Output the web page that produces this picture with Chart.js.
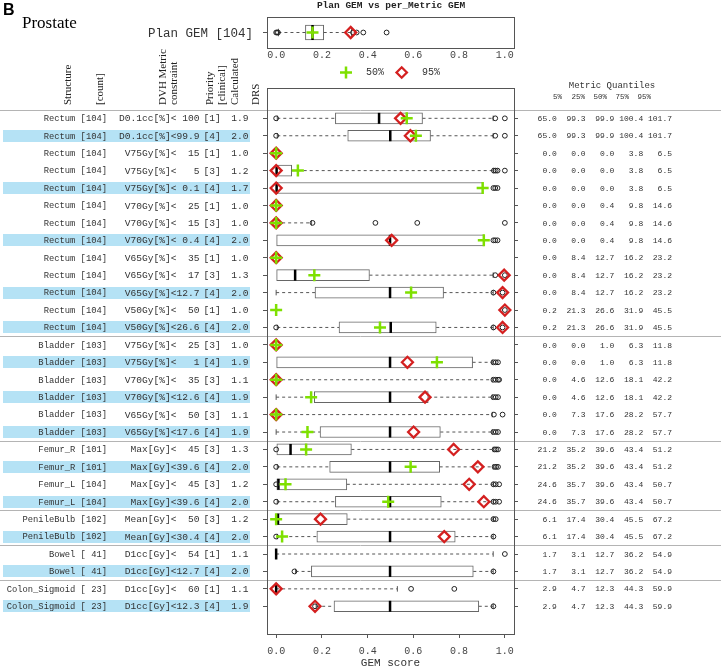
<!DOCTYPE html>
<html><head><meta charset="utf-8">
<script src="https://cdn.jsdelivr.net/npm/chart.js@4/dist/chart.umd.min.js"></script>
<style>
html,body{margin:0;padding:0;background:#fff;}
#wrap{position:relative;width:721px;height:669px;overflow:hidden;}
#main,#inset{position:absolute;left:0;top:0;}
</style></head><body>
<div id="wrap"><canvas id="main" width="721" height="669"></canvas><canvas id="inset" width="721" height="86"></canvas></div>
<script>
// ---------------- data ----------------
const structures = ["Rectum","Rectum","Rectum","Rectum","Rectum","Rectum","Rectum","Rectum","Rectum","Rectum","Rectum","Rectum","Rectum",
  "Bladder","Bladder","Bladder","Bladder","Bladder","Bladder",
  "Femur_R","Femur_R","Femur_L","Femur_L","PenileBulb","PenileBulb","Bowel","Bowel","Colon_Sigmoid","Colon_Sigmoid"];
const counts = [104,104,104,104,104,104,104,104,104,104,104,104,104, 103,103,103,103,103,103, 101,101,104,104,102,102,41,41,23,23];
const metrics = ["D0.1cc[%]","D0.1cc[%]","V75Gy[%]","V75Gy[%]","V75Gy[%]","V70Gy[%]","V70Gy[%]","V70Gy[%]","V65Gy[%]","V65Gy[%]","V65Gy[%]","V50Gy[%]","V50Gy[%]",
  "V75Gy[%]","V75Gy[%]","V70Gy[%]","V70Gy[%]","V65Gy[%]","V65Gy[%]",
  "Max[Gy]","Max[Gy]","Max[Gy]","Max[Gy]","Mean[Gy]","Mean[Gy]","D1cc[Gy]","D1cc[Gy]","D1cc[Gy]","D1cc[Gy]"];
const limits = ["100","99.9","15","5","0.1","25","15","0.4","35","17","12.7","50","26.6",
  "25","1","35","12.6","50","17.6","45","39.6","45","39.6","50","30.4","54","12.7","60","12.3"];
const priorities = [1,4,1,3,4,1,3,4,1,3,4,1,4, 3,4,3,4,3,4, 3,4,3,4, 3,4, 1,4,1,4];
const calculated = [1.9,2.0,1.0,1.2,1.7,1.0,1.0,2.0,1.0,1.3,2.0,1.0,2.0, 1.0,1.9,1.1,1.9,1.1,1.9, 1.3,2.0,1.2,2.0, 1.2,2.0, 1.1,2.0,1.1,1.9];
const drsShade = ["#000000","#a8a8a8",null,"#ebebeb","#9a9a9a",null,null,"#9a9a9a",null,"#a8a8a8","#a8a8a8",null,"#9a9a9a",
  null,"#9a9a9a",null,"#b0b0b0",null,"#9a9a9a","#b8b8b8","#a0a0a0","#c0c0c0","#9a9a9a","#b8b8b8","#9a9a9a",null,"#9a9a9a",null,"#9a9a9a"];

// per-metric GEM distributions
const whiskerLow  = [0.005,0.005,null,0,0,null,0,0,null,0,0,null,0.005, null,0,0,0,0,0, 0.003,0.005,0.003,0.005, 0.003,0.005, 0,0.085,0,0.175];
const boxLow      = [0.259,0.313,null,0,0,null,0,0,null,0,0.170,null,0.275, null,0,0,0.167,0,0.192, 0.003,0.234,0.003,0.259, 0.003,0.178, 0,0.154,0,0.253];
const medians     = [0.450,0.499,null,0.002,0.002,null,0,0.498,null,0.083,0.498,null,0.501, null,0.498,0,0.498,0,0.498, 0.063,0.498,0.010,0.498, 0.008,0.498, 0,0.498,0,0.498];
const boxHigh     = [0.640,0.675,null,0.068,0.903,null,0,0.908,null,0.408,0.732,null,0.700, null,0.859,0,0.665,0,0.718, 0.329,0.715,0.309,0.722, 0.311,0.783, 0,0.862,0,0.886];
const whiskerHigh = [0.949,0.949,null,0.949,0.903,null,0.155,0.908,null,0.949,0.949,null,0.949, null,0.945,0.945,0.945,0.945,0.945, 0.949,0.949,0.949,0.949, 0.949,0.949, 0.949,0.949,0.530,0.949];
const gem50 = [0.571,0.611,0,0.095,0.903,0,0,0.908,0,0.167,0.590,0,0.454, 0,0.703,0,0.153,0,0.137, 0.131,0.588,0.041,0.490, 0.0,0.026, null,null,null,null];
const gem95 = [0.544,0.587,0,0,0,0,0,0.505,0,0.997,0.990,1.0,0.990, 0,0.574,0,0.651,0,0.601, 0.776,0.882,0.844,0.908, 0.194,0.735, null,null,0,0.170];
const outliers = [[0,0.958,1.0],[0,0.958,1.0],[],[0.952,0.96,0.968,1.0],[0.95,0.958,0.968],[],[0.159,0.434,0.617,1.0],[0.95,0.958,0.968],[],[0.958,1.0],[0.95,0.99],[1.0],[0,0.95,0.99],
  [],[0.95,0.96,0.97],[0.95,0.96,0.97,0.975],[0.95,0.96,0.97],[0.952,0.99],[0.95,0.96,0.97],
  [0,0.955,0.962,0.97],[0,0.955,0.962,0.97],[0,0.95,0.96,0.975],[0,0.95,0.96,0.975],[0.95,0.96],[0,0.95],[1.0],[0.08,0.95],[0.59,0.779],[0.17,0.95]];

// metric quantiles (right-hand table)
const q05 = [65.0,65.0,0.0,0.0,0.0,0.0,0.0,0.0,0.0,0.0,0.0,0.2,0.2, 0.0,0.0,0.0,0.0,0.0,0.0, 21.2,21.2,24.6,24.6,6.1,6.1,1.7,1.7,2.9,2.9];
const q25 = [99.3,99.3,0.0,0.0,0.0,0.0,0.0,0.0,8.4,8.4,8.4,21.3,21.3, 0.0,0.0,4.6,4.6,7.3,7.3, 35.2,35.2,35.7,35.7,17.4,17.4,3.1,3.1,4.7,4.7];
const q50 = [99.9,99.9,0.0,0.0,0.0,0.4,0.4,0.4,12.7,12.7,12.7,26.6,26.6, 1.0,1.0,12.6,12.6,17.6,17.6, 39.6,39.6,39.6,39.6,30.4,30.4,12.7,12.7,12.3,12.3];
const q75 = [100.4,100.4,3.8,3.8,3.8,9.8,9.8,9.8,16.2,16.2,16.2,31.9,31.9, 6.3,6.3,18.1,18.1,28.2,28.2, 43.4,43.4,43.4,43.4,45.5,45.5,36.2,36.2,44.3,44.3];
const q95 = [101.7,101.7,6.5,6.5,6.5,14.6,14.6,14.6,23.2,23.2,23.2,45.5,45.5, 11.8,11.8,42.2,42.2,57.7,57.7, 51.2,51.2,50.7,50.7,67.2,67.2,54.9,54.9,59.9,59.9];
const quantileLabels = ["5%","25%","50%","75%","95%"];

// plan-level GEM (top inset)
const planStats = [0.01, 0.128, 0.159, 0.208, 0.330]; // whisker low, q1, median, q3, whisker high
const planOutliers = [0, 0.004, 0.008, 0.336, 0.352, 0.381, 0.483];
const plan50 = 0.159, plan95 = 0.326;
const planCount = 104;
const xTicks = [0, 0.2, 0.4, 0.6, 0.8, 1.0];

// ---------------- styling ----------------
const MONO = "'Liberation Mono', 'DejaVu Sans Mono', monospace";
const SERIF = "'Liberation Serif', 'DejaVu Serif', serif";
const GREEN = '#7ee000', RED = '#d42020', FRAME = '#555555';
Chart.defaults.font.family = MONO;
Chart.defaults.animation = false;

function boxDatasets(rows, st) {
  const boxes = [], whisk = [], staples = [], meds = [];
  rows.forEach(r => {
    boxes.push({x: [r.q1, r.q3], y: r.i});
    meds.push({x: r.med, y: r.i});
    if (r.wLo < r.q1) { whisk.push({x: r.wLo, y: r.i}, {x: r.q1, y: r.i}, {x: r.q1, y: null}); staples.push({x: r.wLo, y: r.i}); }
    if (r.wHi > r.q3) { whisk.push({x: r.q3, y: r.i}, {x: r.wHi, y: r.i}, {x: r.wHi, y: null}); staples.push({x: r.wHi, y: r.i}); }
  });
  return [
    {type: 'bar', indexAxis: 'y', data: boxes, backgroundColor: '#ffffff', borderColor: '#666666', borderWidth: 1, borderSkipped: false, barThickness: st.bar, grouped: false, order: 9},
    {type: 'line', data: whisk, borderColor: '#555555', borderWidth: 1, borderDash: [3, 3], pointRadius: 0, spanGaps: false, fill: false, order: 8},
    {type: 'scatter', data: staples, pointStyle: 'line', rotation: 90, pointRadius: st.staple, borderColor: '#555555', borderWidth: 1, order: 7},
    {type: 'scatter', data: meds, pointStyle: 'line', rotation: 90, pointRadius: st.bar / 2, borderColor: '#000000', borderWidth: 2.5, order: 6}
  ];
}

// ---------------- main chart ----------------
const rowsMain = [];
structures.forEach((s, i) => { if (boxLow[i] !== null) rowsMain.push({i, wLo: whiskerLow[i], q1: boxLow[i], med: medians[i], q3: boxHigh[i], wHi: whiskerHigh[i]}); });
const outPts = []; outliers.forEach((arr, i) => arr.forEach(v => outPts.push({x: v, y: i})));
const p50Pts = [], p95Pts = [], drsPts = [], drsCols = [];
structures.forEach((s, i) => {
  if (gem50[i] !== null) p50Pts.push({x: gem50[i], y: i});
  if (gem95[i] !== null) p95Pts.push({x: gem95[i], y: i});
  if (drsShade[i] !== null) { drsPts.push({x: -0.077, y: i}); drsCols.push(drsShade[i]); }
});

const mainDecor = {
  id: 'mainDecor',
  beforeDraw(chart) {
    const {ctx, scales: {y}} = chart;
    ctx.save();
    ctx.fillStyle = '#b5e2f5';
    priorities.forEach((p, i) => { if (p === 4) { const py = y.getPixelForValue(i); ctx.fillRect(3, Math.round(py - 6), 247, 12); } });
    ctx.strokeStyle = '#b4b4b4'; ctx.lineWidth = 1;
    const bounds = [-0.5];
    for (let i = 1; i < structures.length; i++) if (structures[i].split('_')[0] !== structures[i - 1].split('_')[0]) bounds.push(i - 0.5);
    bounds.forEach(b => { const py = Math.round(y.getPixelForValue(b)) + 0.5; ctx.beginPath(); ctx.moveTo(0, py); ctx.lineTo(721, py); ctx.stroke(); });
    ctx.fillStyle = '#333333'; ctx.textBaseline = 'middle';
    const qCols = [q05, q25, q50, q75, q95];
    structures.forEach((s, i) => {
      const py = y.getPixelForValue(i) + 0.5;
      ctx.textAlign = 'right';
      ctx.font = '8.8px ' + MONO;
      ctx.fillText(s + ' [' + String(counts[i]).padStart(3, ' ') + ']', 107, py);
      ctx.font = '9.6px ' + MONO;
      ctx.fillText(metrics[i] + '<' + limits[i].padStart(4, ' '), 199.5, py);
      ctx.fillText(calculated[i].toFixed(1), 248.5, py);
      ctx.textAlign = 'left';
      ctx.fillText('[' + priorities[i] + ']', 203.5, py);
      ctx.textAlign = 'right';
      ctx.font = '8px ' + MONO;
      ctx.fillText(qCols.map(a => a[i].toFixed(1).padStart(5, ' ')).join(' '), 672, py);
    });
    ctx.font = '9px ' + MONO; ctx.textAlign = 'center';
    ctx.fillText('Metric Quantiles', 612, 86);
    ctx.font = '7.5px ' + MONO; ctx.textAlign = 'right';
    const hRight = [562, 585, 607, 629, 651];
    quantileLabels.forEach((t, k) => ctx.fillText(t, hRight[k], 97));
    ctx.font = '11px ' + SERIF; ctx.fillStyle = '#222222';
    const heads = [['Structure', 68], ['[count]', 100], ['DVH Metric', 163], ['constraint', 174], ['Priority', 210.5], ['[clinical]', 222.5], ['Calculated', 235], ['DRS', 256.5]];
    heads.forEach(([t, x]) => { ctx.save(); ctx.translate(x, 105); ctx.rotate(-Math.PI / 2); ctx.textAlign = 'left'; ctx.textBaseline = 'middle'; ctx.fillText(t, 0, 0); ctx.restore(); });
    ctx.fillStyle = '#000000'; ctx.textAlign = 'left'; ctx.textBaseline = 'alphabetic';
    ctx.font = 'bold 16px "Liberation Sans", Arial, sans-serif';
    ctx.fillText('B', 3, 15);
    ctx.font = '17px ' + SERIF;
    ctx.fillText('Prostate', 22, 28);
    ctx.fillStyle = '#333333'; ctx.font = '12.5px ' + MONO; ctx.textAlign = 'right'; ctx.textBaseline = 'middle';
    ctx.fillText('Plan GEM [' + planCount + ']', 253, 34);
    ctx.restore();
  },
  afterDatasetsDraw(chart) {
    const {ctx, chartArea: a} = chart;
    ctx.save(); ctx.strokeStyle = FRAME; ctx.lineWidth = 1;
    ctx.strokeRect(Math.round(a.left) + 0.5, Math.round(a.top) + 0.5, Math.round(a.right - a.left), Math.round(a.bottom - a.top));
    ctx.restore();
  }
};

const yCommon = {
  type: 'linear', min: -1.74, max: 29.59, reverse: true, offset: false,
  afterBuildTicks: sc => { sc.ticks = structures.map((s, i) => ({value: i})); },
  ticks: {display: false},
  grid: {offset: false, drawOnChartArea: false, drawTicks: true, tickLength: 4, color: FRAME, tickColor: FRAME},
  border: {display: false},
  afterFit: sc => { sc.width = 5; }
};

new Chart(document.getElementById('main'), {
  type: 'scatter',
  data: {datasets: [
    ...boxDatasets(rowsMain, {bar: 11, staple: 2.75}),
    {type: 'scatter', data: outPts, pointStyle: 'circle', pointRadius: 2.4, borderColor: '#222222', borderWidth: 1, backgroundColor: 'rgba(255,255,255,0)', order: 5},
    {type: 'scatter', data: drsPts, pointStyle: 'circle', pointRadius: 5.6, backgroundColor: drsCols, borderWidth: 0, clip: false, order: 4},
    {type: 'scatter', data: p95Pts, pointStyle: 'rectRot', pointRadius: 5.5, borderColor: RED, borderWidth: 2.3, backgroundColor: 'rgba(0,0,0,0)', order: 2},
    {type: 'scatter', data: p50Pts, pointStyle: 'cross', pointRadius: 6, borderColor: GREEN, borderWidth: 2.5, order: 1}
  ]},
  options: {
    responsive: false, devicePixelRatio: 1, animation: false,
    layout: {padding: {left: 262, right: 202, top: 88, bottom: 0}},
    plugins: {legend: {display: false}, tooltip: {enabled: false}},
    scales: {
      x: {type: 'linear', min: -0.04, max: 1.04, offset: false,
        afterBuildTicks: sc => { sc.ticks = xTicks.map(v => ({value: v})); },
        ticks: {callback: v => Number(v).toFixed(1), color: '#444444', font: {size: 10, family: MONO}, padding: 7, maxRotation: 0},
        grid: {offset: false, drawOnChartArea: false, drawTicks: true, tickLength: 4, color: FRAME, tickColor: FRAME},
        border: {display: false},
        title: {display: true, text: 'GEM score', color: '#333333', font: {size: 11, family: MONO, lineHeight: 1}, padding: {top: 0, bottom: 0}},
        afterFit: sc => { sc.height = 35; }
      },
      y: Object.assign({position: 'left'}, yCommon),
      y2: Object.assign({position: 'right'}, yCommon)
    }
  },
  plugins: [mainDecor]
});

// ---------------- inset chart (plan GEM) ----------------
const insetDecor = {
  id: 'insetDecor',
  afterDatasetsDraw(chart) {
    const {ctx, chartArea: a} = chart;
    ctx.save();
    ctx.strokeStyle = FRAME; ctx.lineWidth = 1;
    ctx.strokeRect(Math.round(a.left) + 0.5, Math.round(a.top) + 0.5, Math.round(a.right - a.left), Math.round(a.bottom - a.top));
    ctx.fillStyle = '#222222'; ctx.font = 'bold 9.5px ' + MONO; ctx.textAlign = 'center'; ctx.textBaseline = 'middle';
    ctx.fillText('Plan GEM vs per_Metric GEM', 391, 5.5);
    const ly = 72.5;
    ctx.strokeStyle = GREEN; ctx.lineWidth = 2.5;
    ctx.beginPath(); ctx.moveTo(340, ly); ctx.lineTo(352, ly); ctx.moveTo(346, ly - 6); ctx.lineTo(346, ly + 6); ctx.stroke();
    ctx.strokeStyle = RED; ctx.lineWidth = 2.3;
    ctx.beginPath(); ctx.moveTo(396.5, ly); ctx.lineTo(401.7, ly - 5.2); ctx.lineTo(406.9, ly); ctx.lineTo(401.7, ly + 5.2); ctx.closePath(); ctx.stroke();
    ctx.fillStyle = '#333333'; ctx.font = '10px ' + MONO; ctx.textAlign = 'left';
    ctx.fillText('50%', 366, ly); ctx.fillText('95%', 422, ly);
    ctx.restore();
  }
};

new Chart(document.getElementById('inset'), {
  type: 'scatter',
  data: {datasets: [
    ...boxDatasets([{i: 1, wLo: planStats[0], q1: planStats[1], med: planStats[2], q3: planStats[3], wHi: planStats[4]}], {bar: 15, staple: 3.75}),
    {type: 'scatter', data: planOutliers.map(v => ({x: v, y: 1})), pointStyle: 'circle', pointRadius: 2.4, borderColor: '#222222', borderWidth: 1, backgroundColor: 'rgba(255,255,255,0)', order: 5},
    {type: 'scatter', data: [{x: plan95, y: 1}], pointStyle: 'rectRot', pointRadius: 5.5, borderColor: RED, borderWidth: 2.3, backgroundColor: 'rgba(0,0,0,0)', order: 2},
    {type: 'scatter', data: [{x: plan50, y: 1}], pointStyle: 'cross', pointRadius: 6, borderColor: GREEN, borderWidth: 2.5, order: 1}
  ]},
  options: {
    responsive: false, devicePixelRatio: 1, animation: false,
    layout: {padding: {left: 262, right: 207, top: 17, bottom: 0}},
    plugins: {legend: {display: false}, tooltip: {enabled: false}},
    scales: {
      x: {type: 'linear', min: -0.04, max: 1.04, offset: false,
        afterBuildTicks: sc => { sc.ticks = xTicks.map(v => ({value: v})); },
        ticks: {callback: v => Number(v).toFixed(1), color: '#444444', font: {size: 10, family: MONO}, padding: 1.5, maxRotation: 0},
        grid: {offset: false, drawOnChartArea: false, drawTicks: false},
        border: {display: false},
        afterFit: sc => { sc.height = 38; }
      },
      y: {type: 'linear', min: 0, max: 2, position: 'left', offset: false,
        afterBuildTicks: sc => { sc.ticks = [{value: 1}]; },
        ticks: {display: false},
        grid: {offset: false, drawOnChartArea: false, drawTicks: true, tickLength: 4, color: FRAME, tickColor: FRAME},
        border: {display: false},
        afterFit: sc => { sc.width = 5; }
      }
    }
  },
  plugins: [insetDecor]
});
</script>
</body></html>
